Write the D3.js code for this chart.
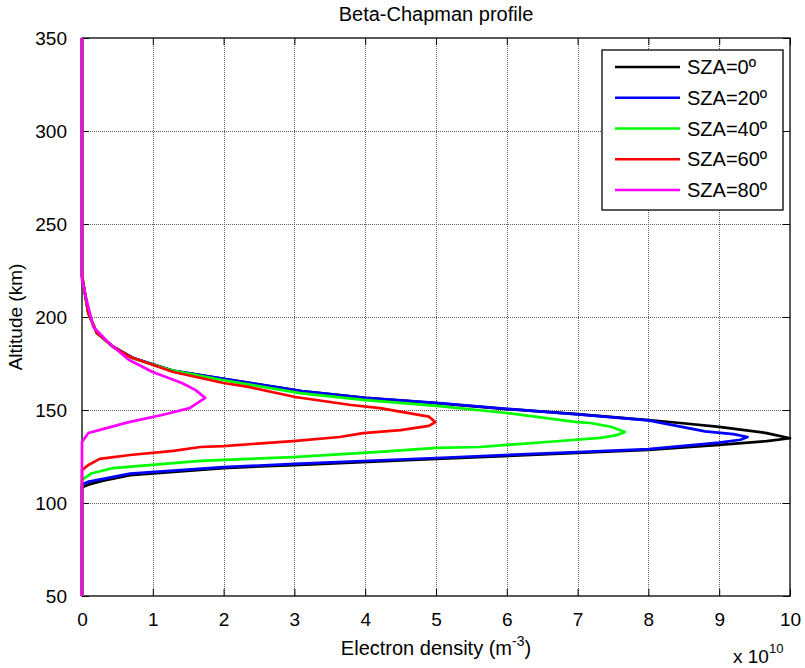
<!DOCTYPE html>
<html>
<head>
<meta charset="utf-8">
<script src="https://cdn.jsdelivr.net/npm/d3@7"></script>
<style>
body { margin: 0; background: #fff; }
text { font-family: "Liberation Sans", Arial, sans-serif; fill: #000; }
</style>
</head>
<body>
<svg id="chart" width="805" height="668"></svg>
<script>
// x values are in units of 1e10 m^-3, altitude in km
var xTicks = [0, 1, 2, 3, 4, 5, 6, 7, 8, 9, 10]
var yTicks = [50, 100, 150, 200, 250, 300, 350]
var seriesNames = ["SZA=0º", "SZA=20º", "SZA=40º", "SZA=60º", "SZA=80º"]
var seriesColors = ["#000000", "#0000ff", "#00ff00", "#ff0000", "#ff00ff"]

var alt0 = [50, 108.5, 110, 112, 115, 118.8, 120.4, 123.7, 126.9, 128.5, 131.2, 133.3, 134.8, 137.6, 140.9, 143, 144.6, 147.8, 150.5, 153.7, 156.5, 160.2, 166.7, 171, 178, 184, 191.4, 202, 213, 222, 350]
var dens0 = [0, 0, 0.1, 0.3, 0.68, 2.0, 3.0, 5.0, 7.0, 8.0, 9.0, 9.67, 10.0, 9.67, 9.0, 8.45, 8.0, 7.0, 6.0, 5.0, 4.0, 3.1, 2.0, 1.3, 0.72, 0.44, 0.21, 0.09, 0.04, 0, 0]

var alt20 = [50, 110, 111.5, 113, 115.8, 119.3, 121, 124.2, 127.4, 129, 132.5, 134, 135.5, 137, 138.5, 144.4, 147.6, 150.6, 153.8, 156.6, 160.2, 166.7, 171, 178, 184, 191.4, 202, 213, 222, 350]
var dens20 = [0, 0, 0.1, 0.3, 0.68, 2.0, 3.0, 5.0, 7.0, 8.0, 9.0, 9.3, 9.4, 9.2, 8.8, 8.0, 7.0, 6.0, 5.0, 4.0, 3.1, 2.0, 1.3, 0.72, 0.44, 0.21, 0.09, 0.04, 0, 0]

var alt40 = [50, 112.4, 114, 116, 118.8, 122.6, 124.7, 127.5, 129.6, 130.1, 131.2, 133.2, 135, 136.5, 138.2, 141, 143, 143.5, 148.4, 152.2, 155.4, 159.1, 166, 171, 178, 184, 191.4, 202, 213, 222, 350]
var dens40 = [0, 0, 0.06, 0.14, 0.44, 1.67, 2.98, 4.2, 5.01, 5.62, 6.0, 6.7, 7.32, 7.55, 7.67, 7.47, 7.18, 6.99, 6.0, 5.01, 3.97, 3.08, 2.0, 1.3, 0.7, 0.44, 0.21, 0.09, 0.04, 0, 0]

var alt60 = [50, 117.7, 120.4, 123.7, 125.8, 128, 130.1, 130.6, 133.3, 135.5, 137.6, 139.2, 141.5, 143.5, 146.4, 151, 152.7, 157, 162.4, 164.5, 170.4, 178.5, 184, 191.4, 202, 213, 222, 350]
var dens60 = [0, 0, 0.09, 0.25, 0.68, 1.29, 1.67, 2.0, 2.98, 3.64, 3.97, 4.5, 4.9, 4.99, 4.9, 4.21, 3.8, 3.01, 2.35, 2.0, 1.29, 0.68, 0.44, 0.21, 0.09, 0.04, 0, 0]

var alt80 = [50, 132.8, 137.6, 139.2, 143.5, 147.3, 151, 156.5, 160.8, 164.5, 170.6, 177, 186, 194.6, 213, 220, 350]
var dens80 = [0, 0, 0.09, 0.24, 0.66, 1.13, 1.52, 1.74, 1.6, 1.41, 0.99, 0.66, 0.38, 0.16, 0.04, 0, 0]

var altList = [alt0, alt20, alt40, alt60, alt80]
var densList = [dens0, dens20, dens40, dens60, dens80]

var svg = d3.select("#chart")

var x = d3.scaleLinear().domain([0, 10]).range([82, 790])
var y = d3.scaleLinear().domain([50, 350]).range([596, 38])

// grid
svg.append("g")
    .selectAll("line.vgrid")
    .data(xTicks.slice(1, -1))
    .join("line")
    .classed("vgrid", true)
    .attr("x1", function(d) { return Math.round(x(d)) + 0.5 })
    .attr("x2", function(d) { return Math.round(x(d)) + 0.5 })
    .attr("y1", y(350))
    .attr("y2", y(50))
    .style("stroke", "#606060")
    .style("stroke-dasharray", "1,1")
    .style("stroke-width", "1px")

svg.append("g")
    .selectAll("line.hgrid")
    .data(yTicks.slice(1, -1))
    .join("line")
    .classed("hgrid", true)
    .attr("x1", x(0))
    .attr("x2", x(10))
    .attr("y1", function(d) { return Math.round(y(d)) + 0.5 })
    .attr("y2", function(d) { return Math.round(y(d)) + 0.5 })
    .style("stroke", "#606060")
    .style("stroke-dasharray", "1,1")
    .style("stroke-width", "1px")

// axes, ticks inside on all four sides
var tickLen = 7
svg.append("g")
    .attr("transform", "translate(0," + y(50) + ")")
    .call(d3.axisBottom(x).tickValues(xTicks).tickSizeInner(-tickLen).tickSizeOuter(0).tickPadding(tickLen + 10))
    .call(function(g) {
        g.select(".domain").remove()
        g.selectAll("text").style("font-size", "19px").attr("font-family", null)
    })

svg.append("g")
    .attr("transform", "translate(0," + y(350) + ")")
    .call(d3.axisTop(x).tickValues(xTicks).tickSizeInner(-tickLen).tickSizeOuter(0).tickFormat(""))
    .call(function(g) { g.select(".domain").remove() })

svg.append("g")
    .attr("transform", "translate(" + x(0) + ",0)")
    .call(d3.axisLeft(y).tickValues(yTicks).tickSizeInner(-tickLen).tickSizeOuter(0).tickPadding(tickLen + 8))
    .call(function(g) {
        g.select(".domain").remove()
        g.selectAll("text").style("font-size", "19px").attr("font-family", null)
    })

svg.append("g")
    .attr("transform", "translate(" + x(10) + ",0)")
    .call(d3.axisRight(y).tickValues(yTicks).tickSizeInner(-tickLen).tickSizeOuter(0).tickFormat(""))
    .call(function(g) { g.select(".domain").remove() })

svg.append("rect")
    .attr("x", x(0))
    .attr("y", y(350))
    .attr("width", x(10) - x(0))
    .attr("height", y(50) - y(350))
    .style("fill", "none")
    .style("stroke", "#000")
    .style("stroke-width", "1.3px")

// curves
var line = d3.line()
    .x(function(d) { return x(d[0]) })
    .y(function(d) { return y(d[1]) })

svg.append("g")
    .selectAll("path.curve")
    .data(d3.range(seriesNames.length))
    .join("path")
    .classed("curve", true)
    .attr("d", function(i) { return line(d3.zip(densList[i], altList[i])) })
    .style("fill", "none")
    .style("stroke", function(i) { return seriesColors[i] })
    .style("stroke-width", "2.7px")
    .style("stroke-linejoin", "round")

// legend
var leg = svg.append("g")
leg.append("rect")
    .attr("x", 602).attr("y", 50)
    .attr("width", 181).attr("height", 160)
    .style("fill", "#fff")
    .style("stroke", "#000")
    .style("stroke-width", "1.3px")

var rowY = d3.scalePoint().domain(seriesNames).range([67, 190])

leg.selectAll("line.key")
    .data(seriesNames)
    .join("line")
    .classed("key", true)
    .attr("x1", 615).attr("x2", 680)
    .attr("y1", function(d) { return rowY(d) })
    .attr("y2", function(d) { return rowY(d) })
    .style("stroke", function(d, i) { return seriesColors[i] })
    .style("stroke-width", "2.7px")

leg.selectAll("text.key")
    .data(seriesNames)
    .join("text")
    .classed("key", true)
    .attr("x", 687)
    .attr("y", function(d) { return rowY(d) + 7 })
    .style("font-size", "20px")
    .text(function(d) { return d })

// labels
svg.append("text")
    .attr("x", 436).attr("y", 21)
    .attr("text-anchor", "middle")
    .style("font-size", "20px")
    .text("Beta-Chapman profile")

svg.append("text")
    .attr("transform", "translate(22,317) rotate(-90)")
    .attr("text-anchor", "middle")
    .style("font-size", "19px")
    .text("Altitude (km)")

var xl = svg.append("text")
    .attr("x", 436).attr("y", 655)
    .attr("text-anchor", "middle")
    .style("font-size", "20px")
xl.append("tspan").text("Electron density (m")
xl.append("tspan").attr("dy", -9).style("font-size", "14px").text("-3")
xl.append("tspan").attr("dy", 9).text(")")

var ex = svg.append("text")
    .attr("x", 733).attr("y", 663)
    .style("font-size", "19px")
ex.append("tspan").text("x 10")
ex.append("tspan").attr("dy", -10).style("font-size", "13px").text("10")
</script>
</body>
</html>
